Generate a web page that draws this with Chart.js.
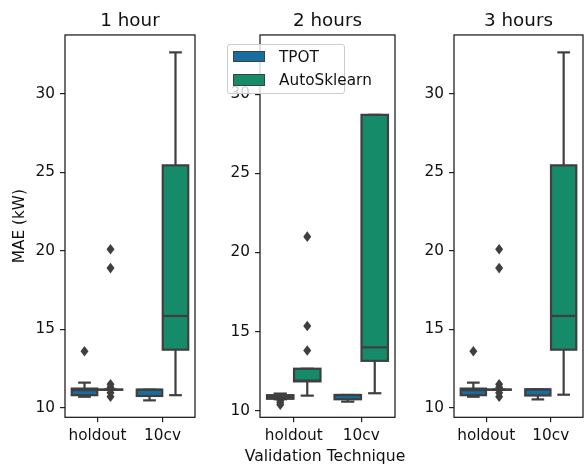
<!DOCTYPE html>
<html>
<head>
<meta charset="utf-8">
<script src="https://cdn.jsdelivr.net/npm/chart.js@4.4.0/dist/chart.umd.min.js"></script>
<style>
  body { margin: 0; background: #fff; }
  #wrap { position: relative; width: 584px; height: 466px; overflow: hidden; font-family: 'DejaVu Sans', sans-serif; color: #111; }
  #wrap canvas { position: absolute; top: 0; }
  #legend {
    position: absolute; left: 227px; top: 44px; width: 118px; height: 50px;
    box-sizing: border-box; border: 1px solid #cccccc; border-radius: 3px;
    background: rgba(255, 255, 255, 0.8);
  }
  #legend .sw { position: absolute; left: 5px; width: 32px; height: 11.5px; box-sizing: border-box; border: 1px solid #3f3f3f; }
  #legend .lb { position: absolute; left: 51px; font-size: 15.3px; line-height: 20px; white-space: nowrap; }
  #xtitle { position: absolute; left: 225px; width: 200px; top: 446.4px; text-align: center; font-size: 15.6px; line-height: 20px; white-space: nowrap; }
</style>
</head>
<body>
<div id="wrap">
  <canvas id="c1" width="205" height="466" style="left:0px"></canvas>
  <canvas id="c2" width="225" height="466" style="left:205px"></canvas>
  <canvas id="c3" width="184" height="466" style="left:400px"></canvas>
  <div id="legend"></div>
  <div id="xtitle"></div>
</div>
<script>
const categories = ['holdout', '10cv'];
const seriesNames = ['TPOT', 'AutoSklearn'];
const panelTitles = ['1 hour', '2 hours', '3 hours'];
const yTicks = [10, 15, 20, 25, 30];
const yMin = [9.39, 9.58, 9.39];
const yMax = [33.76, 33.75, 33.76];
const xLabel = 'Validation Technique';
const yLabel = 'MAE (kW)';

// per category [holdout, 10cv]: [low whisker, q1, median, q3, high whisker]
const tpot1h = [[10.7, 10.8, 11.12, 11.22, 11.6], [10.47, 10.75, 11.15, 11.15, 11.15]];
const auto1h = [[11.15, 11.15, 11.15, 11.15, 11.15], [10.8, 13.7, 15.85, 25.45, 32.65]];
const tpotOut1h = [[13.6], []];
const autoOut1h = [[20.1, 18.9, 11.5, 11.3, 10.95, 10.7], []];

const tpot2h = [[10.72, 10.75, 10.85, 10.98, 11.08], [10.57, 10.72, 10.99, 10.99, 10.99]];
const auto2h = [[10.95, 11.85, 11.9, 12.65, 12.65], [11.1, 13.15, 14.0, 28.7, 28.7]];
const tpotOut2h = [[10.62, 10.5, 10.38], []];
const autoOut2h = [[13.8, 15.35, 21.0], []];

const tpot3h = [[10.7, 10.8, 11.12, 11.22, 11.6], [10.53, 10.78, 11.17, 11.17, 11.17]];
const auto3h = [[11.15, 11.15, 11.15, 11.15, 11.15], [10.83, 13.7, 15.85, 25.45, 32.65]];
const tpotOut3h = [[13.6], []];
const autoOut3h = [[20.1, 18.9, 11.5, 11.3, 10.95, 10.7], []];

const colors = ['#176ca0', '#168b6a'];
const edge = '#3f3f3f';
const FONT = "'DejaVu Sans', sans-serif";
const H = 466;
const AXIS_BOTTOM = 417.3;
const LW = 2.2;

const panels = [
  { id: 'c1', stats: [tpot1h, auto1h], out: [tpotOut1h, autoOut1h], yW: 65, padR: 10, yTitle: yLabel },
  { id: 'c2', stats: [tpot2h, auto2h], out: [tpotOut2h, autoOut2h], yW: 55, padR: 35, yTitle: '' },
  { id: 'c3', stats: [tpot3h, auto3h], out: [tpotOut3h, autoOut3h], yW: 54, padR: 1, yTitle: '' }
];

function line(ctx, x1, y1, x2, y2) {
  ctx.beginPath(); ctx.moveTo(x1, y1); ctx.lineTo(x2, y2); ctx.stroke();
}

const boxPlugin = {
  id: 'boxes',
  beforeDatasetsDraw(chart) {
    const ctx = chart.ctx, ys = chart.scales.y;
    ctx.save();
    ctx.strokeStyle = edge; ctx.lineWidth = LW;
    chart.data.datasets.forEach((ds, di) => {
      chart.getDatasetMeta(di).data.forEach((bar, i) => {
        const { x, width } = bar.getProps(['x', 'width'], true);
        const [lo, q1, , q3, hi] = ds.stats[i];
        const cap = width / 4;
        line(ctx, x, ys.getPixelForValue(q3), x, ys.getPixelForValue(hi));
        line(ctx, x, ys.getPixelForValue(q1), x, ys.getPixelForValue(lo));
        line(ctx, x - cap, ys.getPixelForValue(hi), x + cap, ys.getPixelForValue(hi));
        line(ctx, x - cap, ys.getPixelForValue(lo), x + cap, ys.getPixelForValue(lo));
      });
    });
    ctx.restore();
  },
  afterDatasetsDraw(chart) {
    const ctx = chart.ctx, ys = chart.scales.y;
    ctx.save();
    ctx.strokeStyle = edge; ctx.fillStyle = edge; ctx.lineWidth = LW;
    chart.data.datasets.forEach((ds, di) => {
      chart.getDatasetMeta(di).data.forEach((bar, i) => {
        const { x, y, base, width } = bar.getProps(['x', 'y', 'base', 'width'], true);
        const md = ds.stats[i][2];
        ctx.strokeRect(x - width / 2, Math.min(y, base), width, Math.abs(base - y));
        line(ctx, x - width / 2, ys.getPixelForValue(md), x + width / 2, ys.getPixelForValue(md));
        ds.outliers[i].forEach(v => {
          const py = ys.getPixelForValue(v);
          ctx.beginPath();
          ctx.moveTo(x, py - 5.3); ctx.lineTo(x + 4, py);
          ctx.lineTo(x, py + 5.3); ctx.lineTo(x - 4, py);
          ctx.closePath(); ctx.fill();
        });
      });
    });
    ctx.restore();
  },
  afterDraw(chart) {
    const { ctx, chartArea: a } = chart;
    ctx.save();
    ctx.strokeStyle = '#111'; ctx.lineWidth = 1.2;
    ctx.strokeRect(a.left, a.top, a.right - a.left, a.bottom - a.top);
    ctx.restore();
  }
};

const charts = panels.map((p, k) => new Chart(document.getElementById(p.id), {
  type: 'bar',
  data: {
    labels: categories,
    datasets: seriesNames.map((name, s) => ({
      label: name,
      data: p.stats[s].map(b => [b[1], b[3]]),
      stats: p.stats[s],
      outliers: p.out[s],
      backgroundColor: colors[s],
      borderWidth: 0,
      categoryPercentage: 0.8,
      barPercentage: 0.98
    }))
  },
  options: {
    responsive: false,
    animation: false,
    events: [],
    layout: { padding: { left: 0, right: p.padR, top: 0, bottom: 0 } },
    plugins: {
      legend: { display: false },
      tooltip: { enabled: false },
      title: {
        display: true, text: panelTitles[k], color: '#111', fullSize: false,
        font: { family: FONT, size: 18.3, weight: 'normal' },
        padding: { top: 10, bottom: 3 }
      }
    },
    scales: {
      x: {
        offset: true,
        grid: { offset: false, drawOnChartArea: false, drawTicks: true, tickLength: 5, color: '#222', lineWidth: 1.2 },
        border: { display: false },
        ticks: { color: '#111', padding: 5, font: { family: FONT, size: 15.3 } },
        afterFit(s) { s.height = H - AXIS_BOTTOM; }
      },
      y: {
        min: yMin[k], max: yMax[k],
        afterBuildTicks(s) { s.ticks = yTicks.map(v => ({ value: v })); },
        grid: { drawOnChartArea: false, drawTicks: true, tickLength: 5, color: '#222', lineWidth: 1.2 },
        border: { display: false },
        ticks: { color: '#111', padding: 5, font: { family: FONT, size: 15.3 } },
        title: {
          display: !!p.yTitle, text: p.yTitle, color: '#111',
          font: { family: FONT, size: 15.3 }, padding: { top: 11, bottom: 0 }
        },
        afterFit(s) { s.width = p.yW; }
      }
    }
  },
  plugins: [boxPlugin]
}));

// shared x-axis label under the middle panel
document.getElementById('xtitle').textContent = xLabel;

// legend built from the middle chart's datasets
const legend = document.getElementById('legend');
charts[1].data.datasets.forEach((ds, i) => {
  const sw = document.createElement('div');
  sw.className = 'sw';
  sw.style.top = (5.7 + i * 23.3) + 'px';
  sw.style.background = ds.backgroundColor;
  const lb = document.createElement('div');
  lb.className = 'lb';
  lb.style.top = (1.8 + i * 23.3) + 'px';
  lb.textContent = ds.label;
  legend.appendChild(sw);
  legend.appendChild(lb);
});
</script>
</body>
</html>
